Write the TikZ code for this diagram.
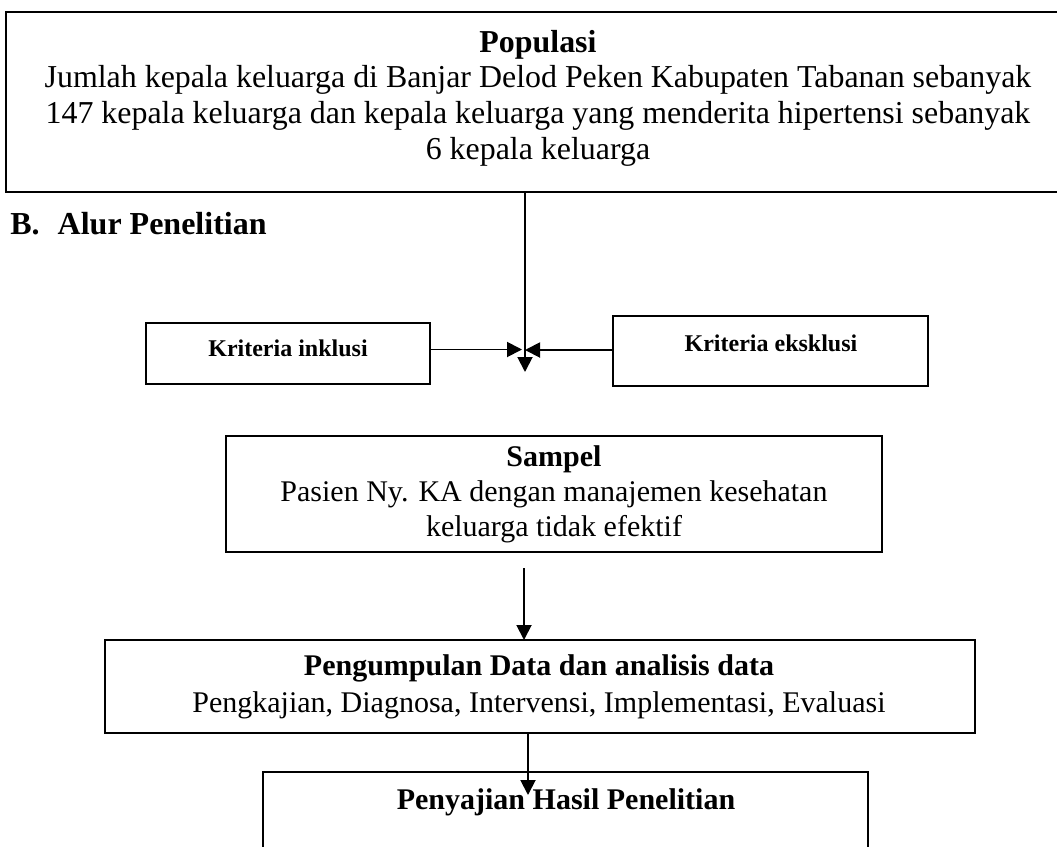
\documentclass[tikz,border=0pt]{standalone}
\usepackage{fontspec}
\setmainfont{Liberation Serif}
\usetikzlibrary{arrows.meta}
\begin{document}
\begin{tikzpicture}[x=0.5pt,y=-0.5pt,
  boxnode/.style={draw, line width=0.95pt, rectangle, inner sep=0pt, outer sep=0pt},
  txt/.style={inner sep=0pt, align=center, font=\fontsize{15}{17.5}\selectfont},
  conn/.style={draw, line width=0.95pt, -{Triangle[length=7.5pt,width=7.5pt]}}]
\useasboundingbox (0,0) rectangle (1057,847);
\clip (0,0) rectangle (1057,847);
% boxes
\node[boxnode, minimum width=534.5pt, minimum height=90pt] (pop) at (540.5,102) {};
\node[boxnode, minimum width=142pt, minimum height=30.5pt] (inkl) at (288,353.5) {};
\node[boxnode, minimum width=157.5pt, minimum height=35pt] (eks) at (770.5,351) {};
\node[boxnode, minimum width=328pt, minimum height=58pt] (samp) at (554,494) {};
\node[boxnode, minimum width=435pt, minimum height=46.5pt] (peng) at (540,686.5) {};
\node[boxnode, minimum width=302.5pt, minimum height=54pt] (peny) at (565.5,826) {};
% texts
\node[txt, font=\fontsize{15.95}{17.8}\selectfont] (popt) at (538,98) {\textbf{Populasi}\\Jumlah kepala keluarga di Banjar Delod Peken Kabupaten Tabanan sebanyak\\147 kepala keluarga dan kepala keluarga yang menderita hipertensi sebanyak\\6 kepala keluarga};
\node[txt, anchor=west, font=\fontsize{16}{19}\selectfont\bfseries] (head) at (10,224) {B.\hspace{9pt}Alur Penelitian};
\node[txt, font=\fontsize{12}{14}\selectfont\bfseries] (inklt) at (288,348) {Kriteria inklusi};
\node[txt, font=\fontsize{12}{14}\selectfont\bfseries] (ekst) at (771,343) {Kriteria eksklusi};
\node[txt] (sampt) at (554,494) {\textbf{Sampel}\\Pasien Ny. KA dengan manajemen kesehatan\\keluarga tidak efektif};
\node[txt, font=\fontsize{15}{18.5}\selectfont] (pengt) at (539,686.5) {\textbf{Pengumpulan Data dan analisis data}\\Pengkajian, Diagnosa, Intervensi, Implementasi, Evaluasi};
\node[txt, font=\fontsize{15}{17.5}\selectfont\bfseries] (penyt) at (566,802) {Penyajian Hasil Penelitian};
% connectors
\coordinate (tip) at (525,372);
\coordinate (jL) at (522,349.5);
\coordinate (jR) at (525,350);
\coordinate (a1) at (524,568);
\coordinate (a2) at (528,795);
\draw[conn] (pop.south -| tip) -- (tip);
\draw[conn] (inkl.east |- jL) -- (jL);
\draw[conn] (eks.west |- jR) -- (jR);
\draw[conn] (a1) -- (a1 |- peng.north);
\draw[conn] (peng.south -| a2) -- (a2);
\end{tikzpicture}
\end{document}
